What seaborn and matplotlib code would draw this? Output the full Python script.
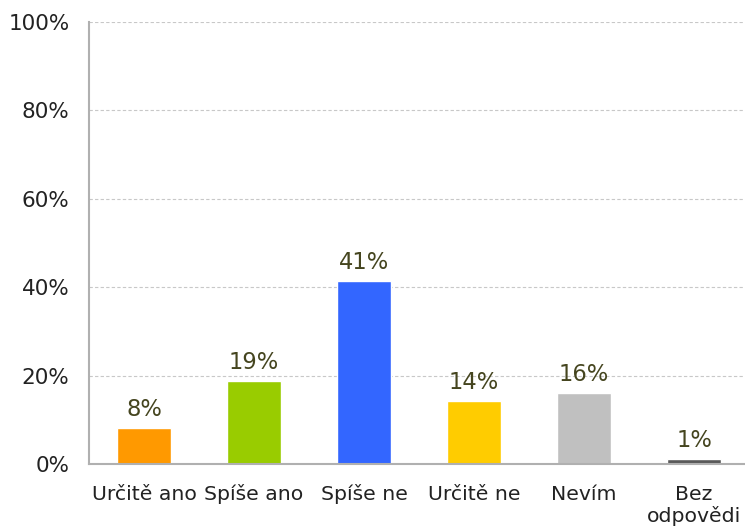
import matplotlib
matplotlib.use('Agg')
import matplotlib.pyplot as plt
import matplotlib.transforms as mtransforms
import seaborn as sns
import pandas as pd
import numpy as np
from matplotlib.ticker import FixedLocator, PercentFormatter

categories = ['Určitě ano', 'Spíše ano', 'Spíše ne', 'Určitě ne', 'Nevím', 'Bez\nodpovědi']
values = [8.1, 18.8, 41.4, 14.3, 16.1, 1.1]
labels = ['8%', '19%', '41%', '14%', '16%', '1%']
colors = ['#FF9900', '#99CC00', '#3366FF', '#FFCC00', '#C0C0C0', '#595959']

df = pd.DataFrame({'cat': categories, 'val': values})

sns.set_style('white')
plt.rcParams['font.family'] = ['DejaVu Sans']

fig = plt.figure(figsize=(7.45, 5.29), dpi=100)
ax = fig.add_axes([89 / 745, 1 - 464 / 529, 660 / 745, (464 - 22) / 529])

sns.barplot(data=df, x='cat', y='val', hue='cat', palette=colors, width=0.49,
            legend=False, ax=ax, saturation=1)

for i, (v, lab) in enumerate(zip(values, labels)):
    ax.annotate(lab, (i, v), xytext=(0, 5), textcoords='offset points',
                ha='center', va='bottom', fontsize=16.3, color='#45451f')

ax.set_ylim(0, 100)
ax.set_xlim(-0.5, len(categories) - 0.5)
ax.set_yticks([0, 20, 40, 60, 80, 100])
ax.yaxis.set_major_formatter(PercentFormatter(decimals=0))
ax.yaxis.grid(True, linestyle=(0, (3, 2)), color='#c8c8c8', linewidth=0.8)
ax.set_axisbelow(True)

# category names: baselines aligned like the original, second line below
ax.set_xticklabels([])
ax.tick_params(axis='x', which='major', length=0)
base = mtransforms.blended_transform_factory(ax.transData, ax.transAxes)
for i, cat in enumerate(categories):
    for j, line in enumerate(cat.split('\n')):
        off = mtransforms.ScaledTranslation(0, -(26 + j * 16) / 72, fig.dpi_scale_trans)
        ax.text(i, 0, line, transform=base + off, ha='center', va='baseline',
                fontsize=14.7, color='#222222')

ax.xaxis.set_minor_locator(FixedLocator(np.arange(-0.5, len(categories), 1)))
ax.tick_params(axis='x', which='minor', length=6, color='#b0b0b0', width=1.2)
ax.tick_params(axis='y', length=6, color='#b0b0b0', width=1.2, pad=8,
               labelsize=15.5, labelcolor='#222222')

for s in ['top', 'right']:
    ax.spines[s].set_visible(False)
for s in ['left', 'bottom']:
    ax.spines[s].set_color('#b0b0b0')
    ax.spines[s].set_linewidth(1.5)

ax.set_xlabel('')
ax.set_ylabel('')

fig.savefig('out.png', dpi=100)
